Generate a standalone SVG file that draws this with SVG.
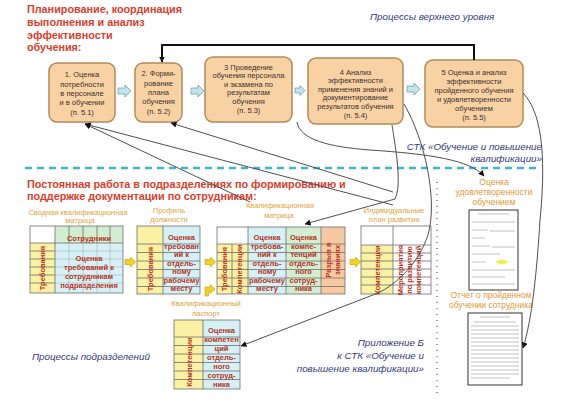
<svg xmlns="http://www.w3.org/2000/svg" width="569" height="402" viewBox="0 0 569 402">
<defs>
<style>
.box{fill:#f9d2a4;stroke:#b38a55;stroke-width:1.5}
.bt{font-family:"Liberation Sans",Arial,sans-serif;font-size:7.5px;fill:#3a3030;text-anchor:middle}
.red{font-family:"Liberation Sans",Arial,sans-serif;font-size:10.8px;font-weight:bold;fill:#d8402c}
.blue{font-family:"Liberation Sans",Arial,sans-serif;font-size:9.8px;font-style:italic;fill:#383a78}
.blueR{font-family:"Liberation Sans",Arial,sans-serif;font-size:9.8px;font-style:italic;fill:#383a78;text-anchor:end}
.lab{font-family:"Liberation Sans",Arial,sans-serif;font-size:7.5px;fill:#e2a43a;text-anchor:middle}
.lab2{font-family:"Liberation Sans",Arial,sans-serif;font-size:8.5px;fill:#e09a30;text-anchor:middle}
.tt{font-family:"Liberation Sans",Arial,sans-serif;font-size:7.5px;font-weight:bold;fill:#b83224;text-anchor:middle}
.grid{stroke:#6f6f6f;stroke-width:0.8;fill:none}
.fgrid{stroke:#9aa;stroke-width:0.5;fill:none}
.ye{fill:#fbf1a2}
.cy{fill:#d6f1f5}
.gr{fill:#d3edd0}
.or{fill:#f8c9a0}
.wh{fill:#ffffff}
.conn{stroke:#505050;stroke-width:1;fill:none}
.yarr{fill:#f3d21c;stroke:#c39a00;stroke-width:0.6}
.barr{fill:#c3e4ec;stroke:#6fa3b5;stroke-width:0.8}
.doc{fill:#fff;stroke:#333;stroke-width:1}
.dl{stroke:#999;stroke-width:0.6}
</style>
<marker id="ah" markerWidth="6" markerHeight="6" refX="5.5" refY="3" orient="auto" markerUnits="userSpaceOnUse">
<path d="M0,0 L6,3 L0,6 z" fill="#111"/>
</marker>
<path id="ya" d="M0,2.5 h5.5 v-2.5 l5,5 l-5,5 v-2.5 h-5.5 z"/>
<path id="ba" d="M0,3 h7 v-3 l6,6 l-6,6 v-3 h-7 z"/>
</defs>
<rect width="569" height="402" fill="#ffffff"/>

<g id="titles">
<text class="red" x="27" y="13">Планирование, координация</text>
<text class="red" x="27" y="26">выполнения и анализ</text>
<text class="red" x="27" y="38.5">эффективности</text>
<text class="red" x="27" y="51">обучения:</text>
<text class="blue" x="370" y="20">Процессы верхнего уровня</text>
<text class="blueR" x="542" y="150">СТК «Обучение и повышение</text>
<text class="blueR" x="542" y="162">квалификации»</text>
<text class="red" x="27" y="188">Постоянная работа в подразделениях по формированию и</text>
<text class="red" x="27" y="200">поддержке документации по сотрудникам:</text>
<text class="blue" x="32" y="360">Процессы подразделений</text>
<text class="blueR" x="424" y="346">Приложение Б</text>
<text class="blueR" x="424" y="359">к СТК «Обучение и</text>
<text class="blueR" x="424" y="372">повышение квалификации»</text>
</g>

<line x1="25" y1="168" x2="540" y2="168" stroke="#3cb9c9" stroke-width="2.5" stroke-dasharray="7,5"/>
<line x1="437" y1="182" x2="437" y2="396" stroke="#555" stroke-width="1.2" stroke-dasharray="1,5"/>

<g id="box1">
<rect class="box" x="49" y="63" width="66" height="59" rx="8"/>
<text class="bt" x="82" y="77">1. Оценка</text>
<text class="bt" x="82" y="87">потребности</text>
<text class="bt" x="82" y="96">в персонале</text>
<text class="bt" x="82" y="105">и в обучении</text>
<text class="bt" x="82" y="115">(п. 5.1)</text>
</g>
<g id="box2">
<rect class="box" x="135" y="63" width="47" height="59" rx="8"/>
<text class="bt" x="158.5" y="75.5">2. Форми-</text>
<text class="bt" x="158.5" y="85.5">рование</text>
<text class="bt" x="158.5" y="94.5">плана</text>
<text class="bt" x="158.5" y="103.5">обучения</text>
<text class="bt" x="158.5" y="113.5">(п. 5.2)</text>
</g>
<g id="box3">
<rect class="box" x="205" y="57" width="87" height="65" rx="8"/>
<text class="bt" x="248.5" y="69.5">3 Проведение</text>
<text class="bt" x="248.5" y="78">обучения персонала</text>
<text class="bt" x="248.5" y="86.5">и экзамена по</text>
<text class="bt" x="248.5" y="95">результатам</text>
<text class="bt" x="248.5" y="103.5">обучения</text>
<text class="bt" x="248.5" y="112.5">(п. 5.3)</text>
</g>
<g id="box4">
<rect class="box" x="308" y="58" width="95" height="66" rx="8"/>
<text class="bt" x="355.5" y="74.5">4 Анализ</text>
<text class="bt" x="355.5" y="83">эффективности</text>
<text class="bt" x="355.5" y="91.5">применения знаний и</text>
<text class="bt" x="355.5" y="100">документирование</text>
<text class="bt" x="355.5" y="108.5">результатов обучения</text>
<text class="bt" x="355.5" y="118">(п. 5.4)</text>
</g>
<g id="box5">
<rect class="box" x="425" y="60" width="98" height="67" rx="8"/>
<text class="bt" x="474" y="74.5">5 Оценка и анализ</text>
<text class="bt" x="474" y="83.5">эффективности</text>
<text class="bt" x="474" y="92.5">пройденного обучения</text>
<text class="bt" x="474" y="101.5">и удовлетворенности</text>
<text class="bt" x="474" y="110.5">обучением</text>
<text class="bt" x="474" y="119.5">(п. 5.5)</text>
</g>

<g id="flow-arrows">
<use href="#ba" class="barr" x="118" y="85"/>
<use href="#ba" class="barr" x="191" y="85"/>
<path class="barr" d="M295,88 h5 v-2.5 l5,5 l-5,5 v-2.5 h-5 z"/>
<use href="#ba" class="barr" x="407" y="83"/>
<use href="#ya" class="yarr" x="125" y="257"/>
<use href="#ya" class="yarr" x="205" y="257"/>
<use href="#ya" class="yarr" x="350" y="257"/>
<path class="yarr" d="M205,296 v-9 h5 v-2.5 l5,4.5 l-5,4.5 v-2.5 h-1.5 v5 z"/>
</g>

<g id="labels">
<text class="lab" x="78" y="215">Сводная квалификационная</text>
<text class="lab" x="80" y="223">матрица</text>
<text class="lab" x="169" y="213">Профиль</text>
<text class="lab" x="169" y="222">должности</text>
<text class="lab" x="280" y="208">Квалификационная</text>
<text class="lab" x="279" y="218">матрица</text>
<text class="lab" x="394" y="213">Индивидуальные</text>
<text class="lab" x="394" y="222">план развития</text>
<text class="lab" x="206" y="306">Квалификационный</text>
<text class="lab" x="206" y="316">паспорт</text>
<text class="lab2" x="494" y="185">Оценка</text>
<text class="lab2" x="494" y="195">удовлетворенности</text>
<text class="lab2" x="494" y="205">обучением</text>
<text class="lab2" x="491" y="298">Отчет о пройденном</text>
<text class="lab2" x="491" y="308">обучении сотрудника</text>
</g>

<g id="table1">
<rect class="wh" x="30" y="226" width="25" height="17"/>
<rect class="gr" x="55" y="226" width="68" height="17"/>
<rect class="ye" x="30" y="243" width="25" height="50"/>
<rect class="cy" x="55" y="243" width="68" height="50"/>
<path class="fgrid" d="M69,243V293M83,243V293M97,243V293M110,243V293M55,251H123M55,259H123M55,267H123M55,275H123M55,283H123"/>
<path class="grid" d="M69,226V243M83,226V243M97,226V243M110,226V243M30,251H55M30,259H55M30,267H55M30,275H55M30,283H55M55,226V293M30,243H123"/>
<rect class="grid" x="30" y="226" width="93" height="67"/>
<text class="tt" x="89" y="240.5">Сотрудники</text>
<text class="tt" transform="translate(45,268) rotate(-90)">Требования</text>
<text class="tt" x="89" y="260.5">Оценка</text>
<text class="tt" x="89" y="269.5">требований к</text>
<text class="tt" x="89" y="278.5">сотрудникам</text>
<text class="tt" x="89" y="287.5">подразделения</text>
</g>

<g id="table2">
<rect class="ye" x="137" y="226" width="26" height="68"/>
<rect class="cy" x="163" y="226" width="37" height="68"/>
<path class="grid" d="M137,244H200M137,252.5H200M137,261H200M137,269.5H200M137,278H200M137,286.5H200M163,226V294"/>
<rect class="grid" x="137" y="226" width="63" height="68"/>
<text class="tt" transform="translate(153,269) rotate(-90)">Требования</text>
<text class="tt" x="181.5" y="240">Оценка</text>
<text class="tt" x="181.5" y="248.5">требован</text>
<text class="tt" x="181.5" y="257">ий к</text>
<text class="tt" x="181.5" y="265.5">отдель-</text>
<text class="tt" x="181.5" y="274">ному</text>
<text class="tt" x="181.5" y="282.5">рабочему</text>
<text class="tt" x="181.5" y="291">месту</text>
</g>

<g id="table3">
<rect class="wh" x="217" y="227" width="31" height="17"/>
<rect class="ye" x="217" y="244" width="31" height="50"/>
<rect class="cy" x="248" y="227" width="38" height="67"/>
<rect class="gr" x="286" y="227" width="35" height="67"/>
<rect class="or" x="321" y="227" width="24" height="67"/>
<path class="grid" d="M217,244H345M217,252.5H345M217,261H345M217,269.5H345M217,278H345M217,286.5H345M232,244V294M248,227V294M286,227V294M321,227V294"/>
<rect class="grid" x="217" y="227" width="128" height="67"/>
<text class="tt" transform="translate(227,269) rotate(-90)">Требования</text>
<text class="tt" transform="translate(242,269) rotate(-90)">Компетенции</text>
<text class="tt" x="267" y="240">Оценка</text>
<text class="tt" x="267" y="248.5">требова-</text>
<text class="tt" x="267" y="257">ний к</text>
<text class="tt" x="267" y="265.5">отдель-</text>
<text class="tt" x="267" y="274">ному</text>
<text class="tt" x="267" y="282.5">рабочему</text>
<text class="tt" x="267" y="291">месту</text>
<text class="tt" x="303.5" y="240">Оценка</text>
<text class="tt" x="303.5" y="248.5">компе-</text>
<text class="tt" x="303.5" y="257">тенций</text>
<text class="tt" x="303.5" y="265.5">отдель-</text>
<text class="tt" x="303.5" y="274">ного</text>
<text class="tt" x="303.5" y="282.5">сотруд-</text>
<text class="tt" x="303.5" y="291">ника</text>
<text class="tt" transform="translate(331,260) rotate(-90)">Разрыв в</text>
<text class="tt" transform="translate(340,260) rotate(-90)">знаниях</text>
</g>

<g id="table4">
<rect class="wh" x="361" y="226" width="70" height="19"/>
<rect class="ye" x="361" y="245" width="32" height="49"/>
<path class="grid" d="M361,245H431M361,253H431M361,261H431M361,269H431M361,277H431M361,285H431M393,226V294"/>
<rect class="grid" x="361" y="226" width="70" height="68"/>
<text class="tt" transform="translate(380,270) rotate(-90)">Компетенции</text>
<text class="tt" transform="translate(403,270) rotate(-90)">Мероприятия</text>
<text class="tt" transform="translate(412,270) rotate(-90)">по развитию</text>
<text class="tt" transform="translate(421,270) rotate(-90)">компетенций</text>
</g>

<g id="table5">
<rect class="ye" x="174" y="320" width="29" height="69"/>
<rect class="cy" x="203" y="320" width="37" height="69"/>
<path class="grid" d="M174,337H240M174,345.5H240M174,354H240M174,362.5H240M174,371H240M174,379.5H240M203,320V389"/>
<rect class="grid" x="174" y="320" width="66" height="69"/>
<text class="tt" transform="translate(192,362) rotate(-90)">Компетенции</text>
<text class="tt" x="221.5" y="332.5">Оценка</text>
<text class="tt" x="221.5" y="341.5">компетен</text>
<text class="tt" x="221.5" y="350.5">ций</text>
<text class="tt" x="221.5" y="359.5">отдель-</text>
<text class="tt" x="221.5" y="368.5">ного</text>
<text class="tt" x="221.5" y="377.5">сотруд-</text>
<text class="tt" x="221.5" y="386.5">ника</text>
</g>

<g id="doc1">
<rect class="doc" x="469" y="210" width="49" height="80"/>
<path class="dl" d="M478,214H509M472,222H515M472,230H488M490,231H515M472,238H485M472,246H490M492,247H515M472,254H500M472,262H486M472,270H515M472,277H505M472,284H515"/>
<ellipse cx="502" cy="262" rx="6" ry="2.2" fill="#f4ee4a"/>
</g>
<g id="doc2">
<rect class="doc" x="468" y="313" width="54" height="72"/>
<path class="dl" d="M480,317H510M474,322H516M471,326H519M471,330H519M471,334H519M471,338H519M471,342H519M471,346H519M471,350H519M471,354H519M471,358H519M471,362H519M471,366H519M471,370H519M471,374H519M471,378H510"/>
</g>

<g id="connectors">
<path d="M474,60 V45 H162 V62" stroke="#111" stroke-width="2" fill="none" marker-end="url(#ah)"/>
<path class="conn" d="M250,202 L85,124" marker-end="url(#ah)"/>
<path class="conn" d="M393,205 L85,124" marker-end="url(#ah)"/>
<path class="conn" d="M393,192 L171,123" marker-end="url(#ah)"/>
<path class="conn" d="M392,125 C396,150 402,185 395,199 L305,224" marker-end="url(#ah)"/>
<path class="conn" d="M404,104 C425,140 438,200 428,235 C418,265 395,285 378,293 L241,346" marker-end="url(#ah)"/>
<path class="conn" d="M297,122 C300,140 330,147 370,150 C430,154 470,160 484,176" marker-end="url(#ah)"/>
<path class="conn" d="M523,93 C545,115 545,170 540,220 C537,270 532,320 523,348" marker-end="url(#ah)"/>
</g>
</svg>
